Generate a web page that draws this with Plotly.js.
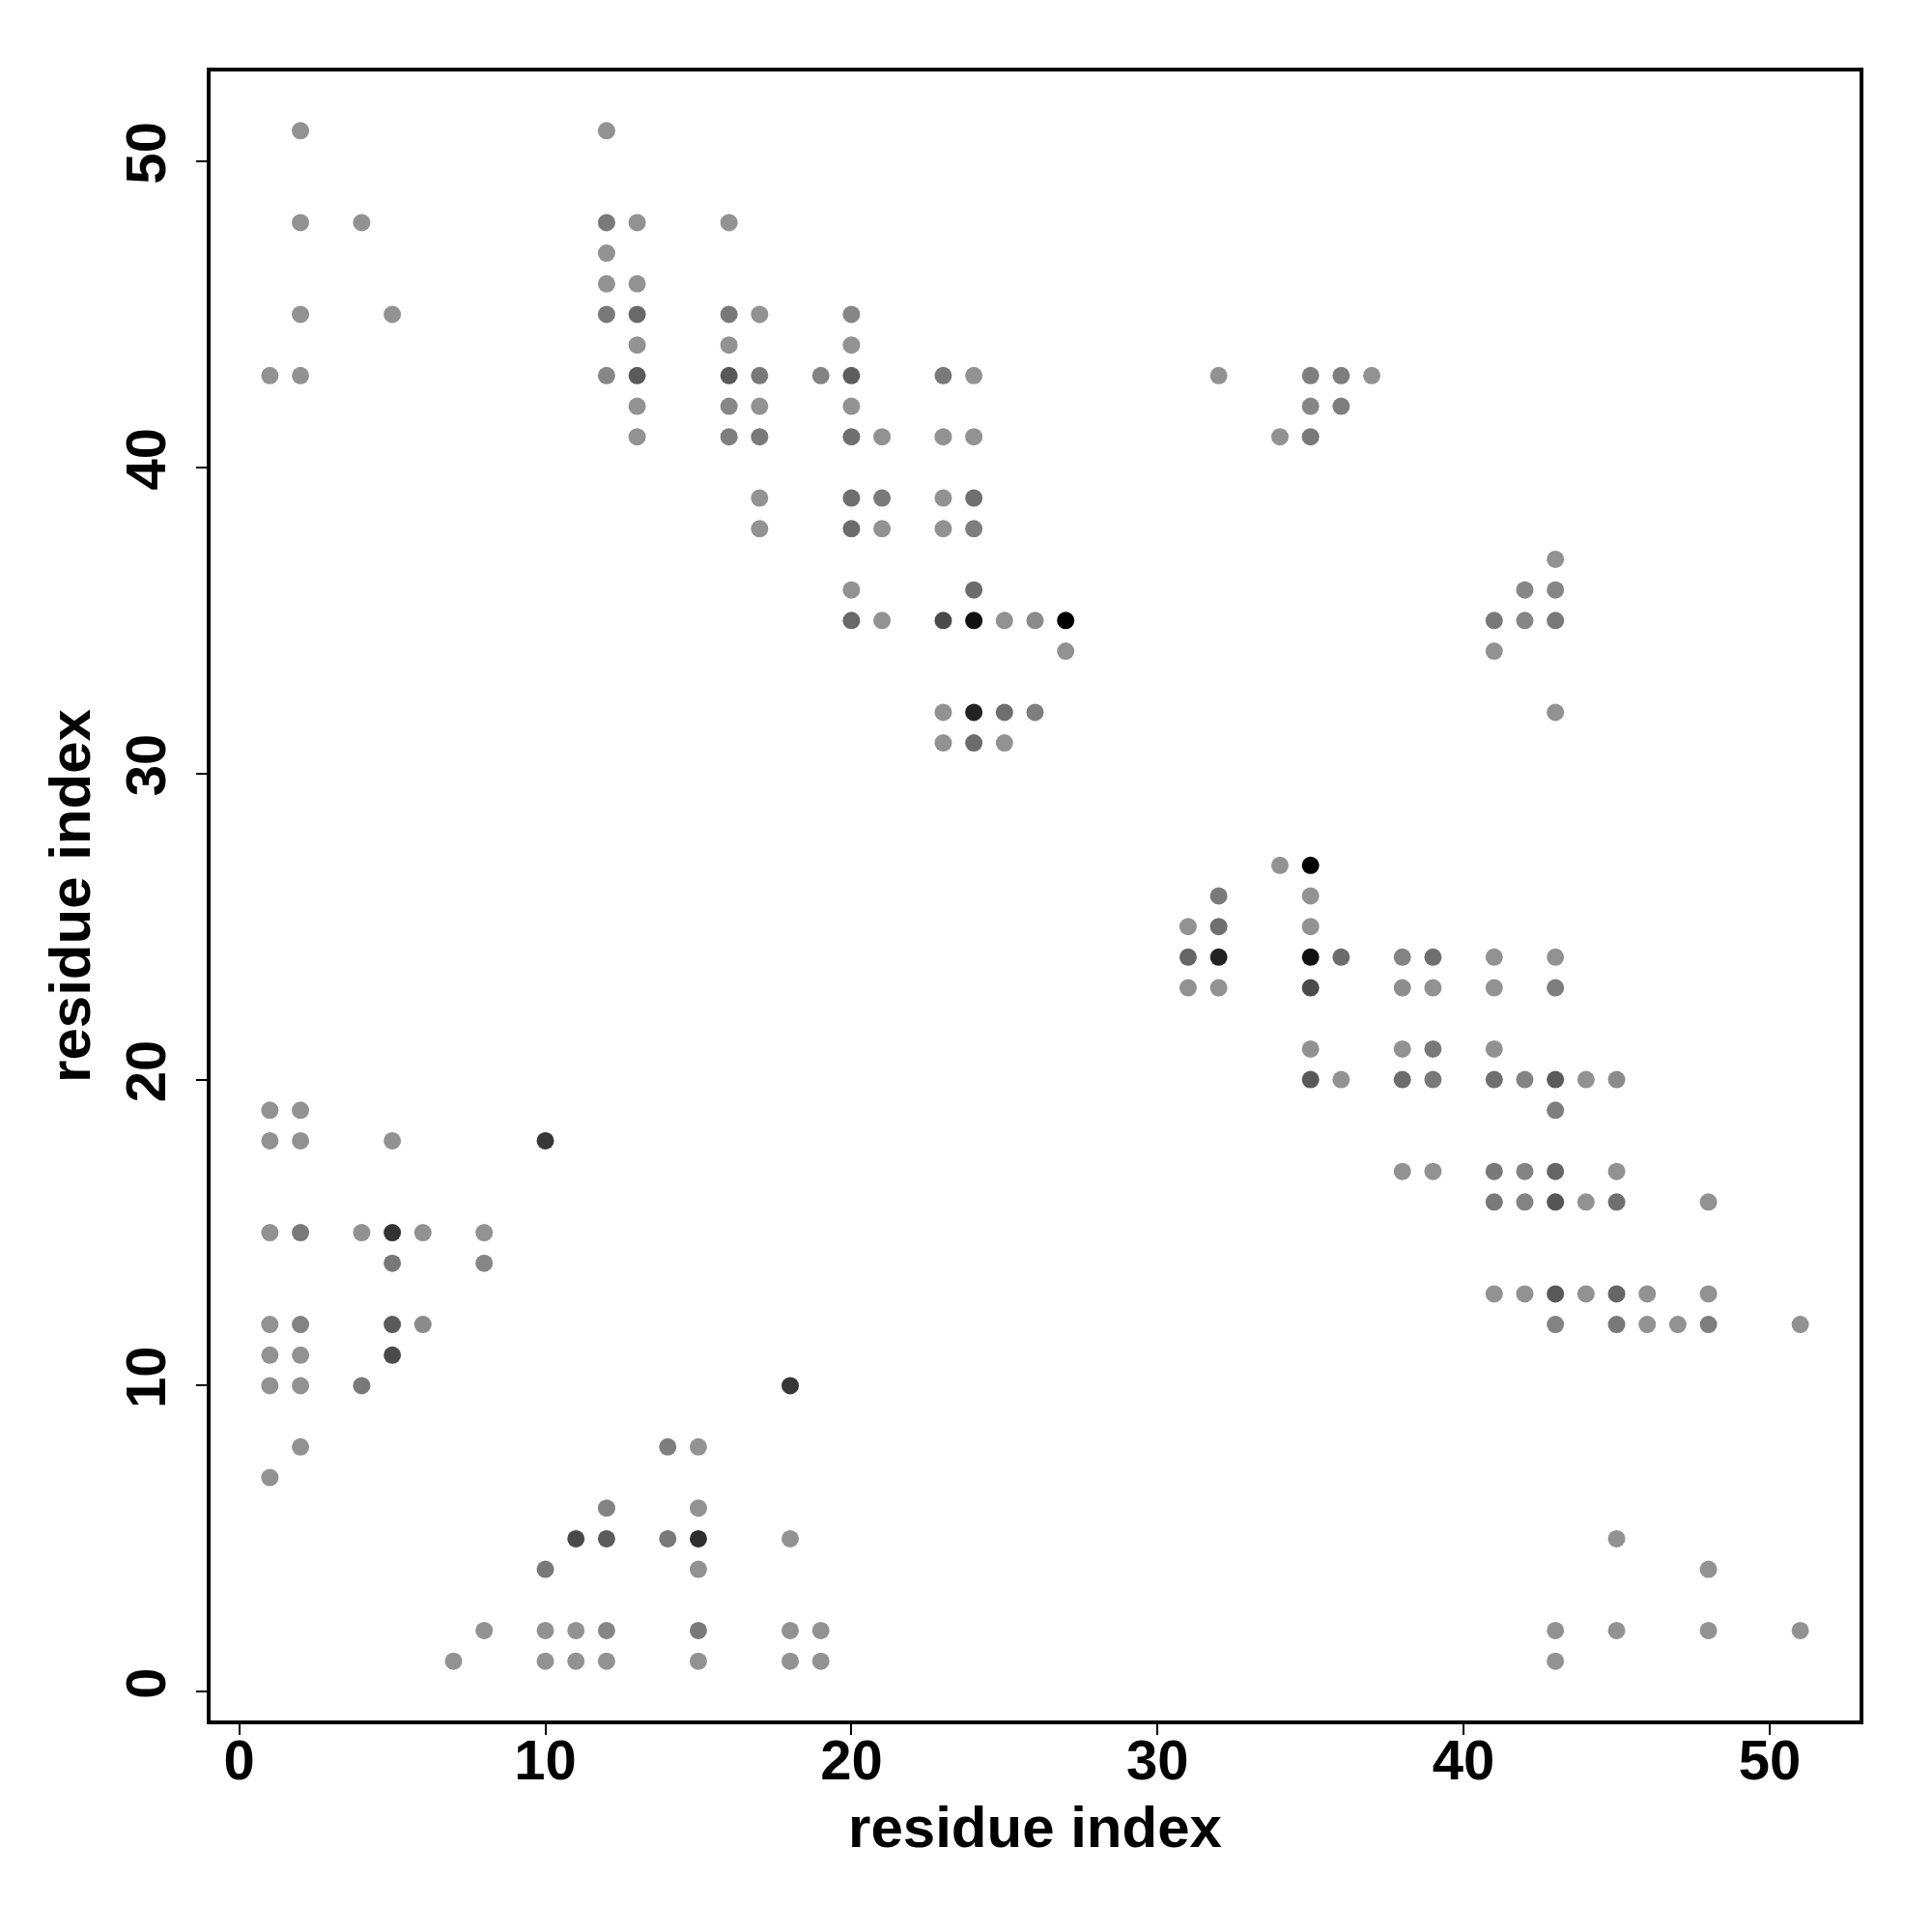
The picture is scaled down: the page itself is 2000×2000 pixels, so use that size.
<!DOCTYPE html>
<html>
<head>
<meta charset="utf-8">
<script src="https://cdn.plot.ly/plotly-3.0.1.min.js"></script>
<style>html,body{margin:0;padding:0;background:#fff;}</style>
</head>
<body>
<div id="chart" style="width:2000px;height:2000px;"></div>
<script>
// residue i (x), residue j (y), contact strength (0 = light grey, 1 = black)
const resX = [
  2,12,
  2,4,12,13,16,
  12,
  12,13,
  2,5,12,13,16,17,20,
  13,16,20,
  1,2,12,13,16,17,19,20,23,24,32,35,36,37,
  13,16,17,20,35,36,
  13,16,17,20,21,23,24,34,35,
  17,20,21,23,24,
  17,20,21,23,24,
  43,
  20,24,42,43,
  20,21,23,24,25,26,27,41,42,43,
  27,41,
  23,24,25,26,43,
  23,24,25,
  34,35,
  32,35,
  31,32,35,
  31,32,35,36,38,39,41,43,
  31,32,35,38,39,41,43,
  35,38,39,41,
  35,36,38,39,41,42,43,44,45,
  1,2,43,
  1,2,5,10,
  38,39,41,42,43,45,
  41,42,43,44,45,48,
  1,2,4,5,6,8,
  5,8,
  41,42,43,44,45,46,48,
  1,2,5,6,43,45,46,47,48,51,
  1,2,5,
  1,2,4,18,
  2,14,15,
  1,
  12,15,
  11,12,14,15,18,45,
  10,15,48,
  8,10,11,12,15,18,19,43,45,48,51,
  7,10,11,12,15,18,19,43
];
const resY = [
  51,51,
  48,48,48,48,48,
  47,
  46,46,
  45,45,45,45,45,45,45,
  44,44,44,
  43,43,43,43,43,43,43,43,43,43,43,43,43,43,
  42,42,42,42,42,42,
  41,41,41,41,41,41,41,41,41,
  39,39,39,39,39,
  38,38,38,38,38,
  37,
  36,36,36,36,
  35,35,35,35,35,35,35,35,35,35,
  34,34,
  32,32,32,32,32,
  31,31,31,
  27,27,
  26,26,
  25,25,25,
  24,24,24,24,24,24,24,24,
  23,23,23,23,23,23,23,
  21,21,21,21,
  20,20,20,20,20,20,20,20,20,
  19,19,19,
  18,18,18,18,
  17,17,17,17,17,17,
  16,16,16,16,16,16,
  15,15,15,15,15,15,
  14,14,
  13,13,13,13,13,13,13,
  12,12,12,12,12,12,12,12,12,12,
  11,11,11,
  10,10,10,10,
  8,8,8,
  7,
  6,6,
  5,5,5,5,5,5,
  4,4,4,
  2,2,2,2,2,2,2,2,2,2,2,
  1,1,1,1,1,1,1,1
];
const strength = [
  0,0,
  0,0,0.17,0,0,
  0,
  0,0,
  0,0,0.17,0.28,0.17,0,0.08,
  0,0,0,
  0,0,0.08,0.38,0.40,0.17,0.10,0.36,0.17,0,0,0.14,0.14,0,
  0,0.08,0,0,0.08,0.14,
  0,0.14,0.17,0.24,0,0,0,0,0.17,
  0,0.24,0.17,0,0.24,
  0,0.26,0,0,0.14,
  0,
  0,0.26,0.08,0.08,
  0.28,0,0.49,0.88,0,0.05,1.0,0.17,0.08,0.17,
  0,0,
  0,0.77,0.24,0.14,0,
  0,0.26,0,
  0,1.0,
  0.17,0,
  0,0.24,0,
  0.30,0.77,0.88,0.26,0.10,0.24,0,0,
  0,0,0.49,0.03,0,0,0.14,
  0,0,0.17,0,
  0.40,0,0.26,0.17,0.24,0.10,0.38,0,0.05,
  0,0,0.14,
  0,0,0,0.62,
  0,0,0.17,0.10,0.30,0,
  0.17,0.10,0.42,0,0.24,0,
  0,0.17,0,0.66,0,0,
  0.18,0.08,
  0,0,0.40,0,0.30,0,0,
  0,0.10,0.38,0.05,0.10,0.17,0,0,0.14,0,
  0,0,0.49,
  0,0,0.17,0.62,
  0,0.14,0,
  0,
  0.10,0,
  0.49,0.38,0.17,0.68,0,0,
  0.17,0,0,
  0,0,0,0.08,0.17,0,0,0,0,0,0,
  0,0,0,0,0,0,0,0
];
const xTicks = [0, 10, 20, 30, 40, 50];
const yTicks = [0, 10, 20, 30, 40, 50];
const axisTitle = "residue index";

const tickFont = {family: "Liberation Sans, Arial, Helvetica, sans-serif", size: 58, color: "#000", weight: 700};
const titleFont = {family: "Liberation Sans, Arial, Helvetica, sans-serif", size: 60, color: "#000", weight: 700};

const trace = {
  type: "scatter",
  mode: "markers",
  x: resX,
  y: resY,
  marker: {
    size: 18,
    color: strength,
    cmin: 0,
    cmax: 1,
    colorscale: [[0, "#929292"], [1, "#000000"]],
    showscale: false,
    line: {width: 0}
  },
  hoverinfo: "x+y"
};

const layout = {
  width: 2000,
  height: 2000,
  margin: {l: 216, r: 73, t: 72, b: 217},
  paper_bgcolor: "#fff",
  plot_bgcolor: "#fff",
  showlegend: false,
  xaxis: {
    range: [-1, 53],
    tickvals: xTicks,
    ticktext: xTicks.map(String),
    ticks: "outside",
    ticklen: 12,
    tickwidth: 2,
    tickcolor: "#000",
    showgrid: false,
    zeroline: false,
    showline: false,
    tickfont: tickFont,
    ticklabelstandoff: -24,
    title: {text: axisTitle, font: titleFont, standoff: 17}
  },
  yaxis: {
    range: [-1, 53],
    tickvals: yTicks,
    ticktext: yTicks.map(String),
    ticks: "outside",
    ticklen: 12,
    tickwidth: 2,
    tickcolor: "#000",
    tickangle: -90,
    showgrid: false,
    zeroline: false,
    showline: false,
    tickfont: tickFont,
    ticklabelstandoff: 9,
    title: {text: axisTitle, font: titleFont, standoff: 4}
  },
  shapes: [{
    type: "rect", xref: "paper", yref: "paper",
    x0: 0, x1: 1, y0: 0, y1: 1,
    line: {color: "#000", width: 4}
  }]
};

Plotly.newPlot("chart", [trace], layout, {displayModeBar: false, staticPlot: true});
</script>
</body>
</html>
